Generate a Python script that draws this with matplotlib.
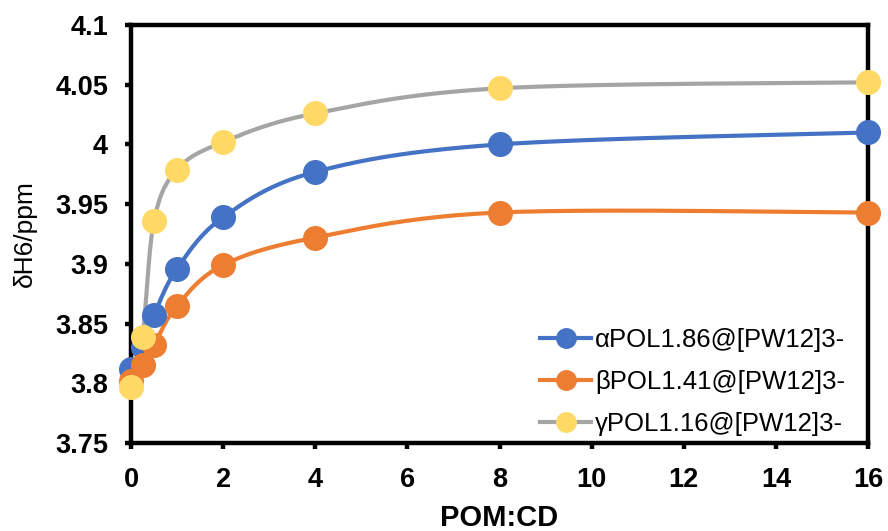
import numpy as np
import matplotlib
matplotlib.use("Agg")
import matplotlib.pyplot as plt
from matplotlib.ticker import FuncFormatter, MultipleLocator

plt.rcParams['font.family'] = ['Liberation Sans', 'DejaVu Sans']

x_vals = [0, 0.25, 0.5, 1, 2, 4, 8, 16]
alpha_vals = [3.812, 3.830, 3.857, 3.896, 3.939, 3.977, 4.000, 4.010]
beta_vals = [3.802, 3.815, 3.832, 3.865, 3.899, 3.922, 3.943, 3.943]
gamma_vals = [3.797, 3.839, 3.936, 3.979, 4.002, 4.026, 4.047, 4.052]
labels = ['αPOL1.86@[PW12]3-', 'βPOL1.41@[PW12]3-', 'γPOL1.16@[PW12]3-']
line_colors = ['#4472C4', '#ED7D31', '#A5A5A5']
marker_colors = ['#4472C4', '#ED7D31', '#FFD966']


def smooth(xs, ys, n=40):
    """Excel-like smoothed line: cubic Bezier with Catmull-Rom control points."""
    P = np.column_stack([xs, ys]).astype(float)
    Pe = np.vstack([P[0], P, P[-1]])
    out = []
    t = np.linspace(0, 1, n)[:, None]
    for i in range(len(P) - 1):
        p0, p1, p2, p3 = Pe[i], Pe[i + 1], Pe[i + 2], Pe[i + 3]
        c1 = p1 + (p2 - p0) / 6
        c2 = p2 - (p3 - p1) / 6
        seg = ((1 - t) ** 3) * p1 + 3 * ((1 - t) ** 2) * t * c1 + 3 * (1 - t) * t ** 2 * c2 + t ** 3 * p2
        out.append(seg if i == 0 else seg[1:])
    seg = np.vstack(out)
    return seg[:, 0], seg[:, 1]


fig = plt.figure(figsize=(8.88, 5.31), dpi=100)
ax = fig.add_axes([131 / 888, 1 - 443 / 531, (868 - 131) / 888, (443 - 25) / 531])

for ys, lc, mc, lab in zip([alpha_vals, beta_vals, gamma_vals], line_colors, marker_colors, labels):
    sx, sy = smooth(x_vals, ys)
    ax.plot(sx, sy, color=lc, lw=3.0, zorder=2, solid_capstyle='round')
    ax.plot(x_vals, ys, linestyle='none', marker='o', ms=17, color=mc,
            markeredgecolor=mc, zorder=3, clip_on=False)
    ax.plot([], [], color=lc, lw=3.0, marker='o', ms=14, markerfacecolor=mc,
            markeredgecolor=mc, label=lab)

ax.set_xlim(0, 16)
ax.set_ylim(3.75, 4.1)
ax.xaxis.set_major_locator(MultipleLocator(2))
ax.yaxis.set_major_locator(MultipleLocator(0.05))
ax.yaxis.set_major_formatter(FuncFormatter(lambda v, p: '%g' % round(v, 2)))

for s in ax.spines.values():
    s.set_linewidth(3.2)
    s.set_color('black')
ax.tick_params(axis='both', direction='out', length=4.5, width=3.2, labelsize=19.5)
ax.tick_params(axis='y', pad=12)
ax.tick_params(axis='x', pad=13)
for lbl in ax.get_xticklabels() + ax.get_yticklabels():
    lbl.set_fontweight('bold')

ax.set_xlabel('POM:CD', fontsize=21, fontweight='bold')
ax.xaxis.set_label_coords(0.5, (443 - 504) / 418)
ax.set_ylabel('δH6/ppm', fontsize=19)
ax.yaxis.set_label_coords((37 - 131) / 737, 0.5)

leg = ax.legend(loc='lower left', frameon=False, fontsize=18.5, handlelength=2.0,
                handletextpad=0.15, labelspacing=0.7, borderpad=0, borderaxespad=0,
                bbox_to_anchor=((540 - 131) / 737, (443 - 436) / 418))

fig.savefig('out.png', dpi=100)
